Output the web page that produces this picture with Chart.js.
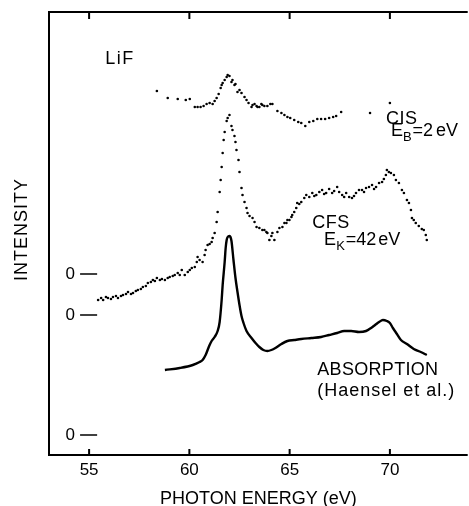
<!DOCTYPE html>
<html>
<head>
<meta charset="utf-8">
<script src="https://cdn.jsdelivr.net/npm/chart.js@4/dist/chart.umd.min.js"></script>
<style>
  html, body { margin: 0; padding: 0; background: #fff; }
  canvas { display: block; }
</style>
</head>
<body>
<canvas id="myChart" width="469" height="506"></canvas>
<script>
// photon energy ticks (eV)
const xTicks = [55, 60, 65, 70]

// the three offset zero levels, in intensity units
const zeroLevels = [45.25, 35, 5]

// CIS, E_B = 2 eV (dots)
const cisE = [58.38, 58.92, 59.42, 59.82, 60.02, 60.27, 60.41, 60.56, 60.71, 60.86, 61.01, 61.16, 61.26, 61.36, 61.46, 61.56, 61.61, 61.66, 61.76, 61.86, 61.91, 62.00, 62.10, 62.15, 62.25, 62.30, 62.40, 62.50, 62.60, 62.75, 62.85, 62.95, 63.10, 63.15, 63.25, 63.35, 63.40, 63.49, 63.59, 63.64, 63.74, 63.89, 64.04, 64.14, 64.39, 64.59, 64.74, 64.89, 65.03, 65.23, 65.43, 65.58, 65.78, 65.98, 66.18, 66.38, 66.57, 66.77, 66.97, 67.17, 67.32, 67.57, 69.01, 70.00]
const cisI = [91.0, 89.25, 89.0, 88.75, 89.0, 87.0, 87.0, 87.0, 87.25, 87.75, 88.0, 87.75, 88.5, 89.25, 90.25, 91.75, 92.5, 93.0, 93.75, 94.5, 95.0, 94.75, 93.25, 93.75, 92.5, 92.75, 90.75, 91.25, 90.5, 89.5, 88.75, 88.0, 87.0, 87.5, 87.75, 87.25, 87.0, 87.0, 87.75, 87.5, 87.25, 87.25, 87.75, 87.75, 86.0, 85.5, 85.0, 84.5, 84.25, 83.75, 83.25, 83.0, 82.25, 83.25, 83.5, 84.0, 84.0, 84.0, 84.25, 84.5, 84.75, 85.75, 85.5, 88.0]

// CFS, E_K = 42 eV (dots)
const cfsE = [55.45, 55.60, 55.70, 55.84, 55.94, 56.09, 56.19, 56.34, 56.44, 56.59, 56.69, 56.84, 56.94, 57.09, 57.19, 57.33, 57.43, 57.58, 57.68, 57.83, 57.93, 58.08, 58.18, 58.28, 58.38, 58.53, 58.63, 58.78, 58.92, 59.02, 59.17, 59.27, 59.42, 59.52, 59.62, 59.77, 59.92, 60.02, 60.12, 60.27, 60.37, 60.41, 60.51, 60.66, 60.76, 60.81, 60.91, 61.01, 61.11, 61.16, 61.26, 61.36, 61.41, 61.51, 61.56, 61.61, 61.66, 61.71, 61.76, 61.86, 61.91, 62.00, 62.10, 62.15, 62.25, 62.30, 62.35, 62.45, 62.50, 62.60, 62.65, 62.75, 62.85, 62.90, 63.00, 63.15, 63.25, 63.35, 63.49, 63.64, 63.74, 63.84, 63.89, 63.99, 64.09, 64.14, 64.24, 64.39, 64.49, 64.64, 64.74, 64.84, 64.89, 64.99, 65.09, 65.13, 65.23, 65.33, 65.38, 65.48, 65.58, 65.73, 65.83, 65.98, 66.13, 66.23, 66.33, 66.48, 66.62, 66.72, 66.82, 66.97, 67.12, 67.22, 67.37, 67.47, 67.62, 67.72, 67.82, 67.97, 68.11, 68.21, 68.31, 68.46, 68.61, 68.71, 68.81, 68.96, 69.11, 69.21, 69.31, 69.46, 69.61, 69.70, 69.80, 69.85, 69.95, 70.05, 70.20, 70.30, 70.45, 70.60, 70.70, 70.85, 70.95, 71.05, 71.10, 71.19, 71.29, 71.44, 71.59, 71.69, 71.79, 71.84]
const cfsI = [38.75, 39.25, 38.75, 39.5, 39.25, 39.0, 39.5, 39.75, 39.25, 39.75, 40.0, 40.25, 40.75, 40.25, 40.5, 41.0, 41.25, 41.5, 42.0, 42.25, 43.0, 43.25, 43.75, 43.5, 44.25, 43.75, 44.0, 43.75, 44.25, 44.5, 44.75, 45.0, 45.5, 45.0, 46.25, 45.0, 45.75, 46.25, 46.75, 47.0, 48.25, 49.5, 48.75, 48.25, 50.0, 51.25, 52.5, 52.75, 53.25, 54.25, 55.5, 58.25, 60.75, 65.75, 68.75, 72.0, 75.5, 78.75, 80.75, 83.5, 84.25, 85.0, 82.25, 81.25, 79.75, 78.25, 76.25, 73.75, 70.75, 66.75, 65.0, 63.25, 61.75, 60.5, 59.75, 59.25, 58.25, 57.0, 56.75, 56.25, 56.25, 55.75, 55.5, 53.75, 54.75, 55.5, 53.75, 55.75, 56.75, 57.0, 58.0, 58.0, 58.75, 58.75, 59.5, 60.0, 60.75, 61.75, 63.0, 62.75, 63.25, 64.25, 65.0, 64.5, 65.5, 64.75, 65.0, 65.75, 66.25, 65.25, 65.5, 66.5, 65.5, 66.0, 67.0, 65.75, 65.0, 64.5, 65.5, 64.5, 64.25, 64.75, 65.5, 66.25, 66.25, 65.75, 66.75, 67.0, 67.5, 66.5, 67.0, 68.0, 68.25, 69.0, 70.0, 71.25, 70.75, 70.5, 70.0, 68.75, 68.0, 66.25, 65.5, 63.75, 63.0, 61.25, 59.25, 58.75, 58.0, 57.25, 56.5, 56.25, 55.0, 53.75]

// absorption, Haensel et al. (solid line)
const absE = [58.78, 59.52, 60.17, 60.51, 60.66, 60.81, 60.91, 61.01, 61.11, 61.26, 61.41, 61.51, 61.61, 61.66, 61.76, 61.81, 61.86, 61.91, 62.00, 62.05, 62.10, 62.20, 62.30, 62.40, 62.50, 62.60, 62.70, 62.85, 63.10, 63.30, 63.49, 63.69, 63.89, 64.09, 64.29, 64.59, 64.89, 65.23, 65.58, 66.08, 66.57, 66.97, 67.37, 67.72, 68.07, 68.46, 68.81, 69.06, 69.26, 69.46, 69.65, 69.85, 70.00, 70.15, 70.35, 70.55, 70.85, 71.19, 71.54, 71.84]
const absI = [21.25, 21.75, 22.5, 23.25, 23.75, 25.0, 26.25, 27.5, 28.5, 29.5, 31.0, 33.25, 38.75, 42.5, 48.25, 51.75, 53.75, 54.5, 54.75, 54.5, 53.5, 48.75, 44.25, 40.75, 37.5, 34.75, 33.0, 31.0, 29.25, 28.0, 27.0, 26.25, 26.0, 26.25, 26.75, 27.75, 28.5, 28.75, 29.0, 29.25, 29.5, 30.0, 30.5, 31.0, 31.0, 30.75, 31.0, 31.75, 32.5, 33.25, 33.75, 33.5, 33.0, 31.75, 30.25, 28.75, 27.75, 26.5, 25.75, 25.0]

function points(xs, ys)
{
  return xs.map(function(x, i){ return {x: x, y: ys[i]} })
}

const FONT = "'Liberation Sans', Arial, sans-serif"

// frame, inward ticks, zero marks and the text labels
const decor = {
  id: 'decor',
  afterDraw: function(chart){
    const ctx = chart.ctx
    const a = chart.chartArea
    const xs = chart.scales.x
    const ys = chart.scales.y
    ctx.save()
    ctx.strokeStyle = '#000'
    ctx.lineWidth = 2
    ctx.beginPath()
    ctx.moveTo(a.right, a.top)
    ctx.lineTo(a.left, a.top)
    ctx.lineTo(a.left, a.bottom)
    ctx.lineTo(a.right, a.bottom)
    xTicks.forEach(function(v){
      const px = xs.getPixelForValue(v)
      ctx.moveTo(px, a.top)
      ctx.lineTo(px, a.top + 7)
      ctx.moveTo(px, a.bottom)
      ctx.lineTo(px, a.bottom - 6)
    })
    ctx.stroke()

    ctx.fillStyle = '#000'
    ctx.textBaseline = 'middle'
    ctx.lineWidth = 1.5
    zeroLevels.forEach(function(v){
      const py = ys.getPixelForValue(v)
      ctx.font = '17px ' + FONT
      ctx.textAlign = 'center'
      ctx.fillText('0', xs.getPixelForValue(54.06), py)
      ctx.beginPath()
      ctx.moveTo(xs.getPixelForValue(54.55), py)
      ctx.lineTo(xs.getPixelForValue(55.40), py)
      ctx.stroke()
    })

    ctx.textAlign = 'left'
    function label(parts, ex, iy, spacing)
    {
      let px = xs.getPixelForValue(ex)
      const py = ys.getPixelForValue(iy)
      ctx.letterSpacing = (spacing || 0) + 'px'
      parts.forEach(function(p){
        ctx.font = p[1] + 'px ' + FONT
        ctx.fillText(p[0], px, py + (p[2] || 0))
        px += ctx.measureText(p[0]).width + (p[3] || 0)
      })
    }
    label([['LiF', 18]], 55.80, 99.0, 1.5)
    label([['CIS', 18]], 69.80, 84.0, 0.5)
    label([['E', 18], ['B', 13, 6, 1], ['=2', 18, 0, 3], ['eV', 18]], 70.05, 81.0)
    label([['CFS', 18]], 66.13, 58.0, 0.5)
    label([['E', 18], ['K', 13, 6, 1], ['=42', 18, 0, 2], ['eV', 18]], 66.72, 53.75)
    label([['ABSORPTION', 18]], 66.38, 21.25, 0.3)
    label([['(Haensel et al.)', 18]], 66.38, 16.0, 1)

    // rotated y title
    ctx.letterSpacing = '1px'
    ctx.font = '18px ' + FONT
    ctx.textAlign = 'center'
    ctx.translate(22, (a.top + a.bottom) / 2 - 4)
    ctx.rotate(-Math.PI / 2)
    ctx.fillText('INTENSITY', 0, 0)
    ctx.restore()
  }
}

const dotStyle = {
  showLine: false,
  pointRadius: 1.3,
  pointBorderWidth: 0,
  pointBackgroundColor: '#000',
  pointHoverRadius: 0
}

var ctx = document.getElementById('myChart').getContext('2d')
var chart = new Chart(ctx, {
  type: 'scatter',
  data: {
    datasets: [
      Object.assign({ label: 'CIS', data: points(cisE, cisI) }, dotStyle),
      Object.assign({ label: 'CFS', data: points(cfsE, cfsI) }, dotStyle),
      {
        label: 'Absorption',
        data: points(absE, absI),
        showLine: true,
        borderColor: '#000',
        borderWidth: 2.4,
        pointRadius: 0,
        cubicInterpolationMode: 'monotone'
      }
    ]
  },
  options: {
    responsive: false,
    animation: false,
    layout: { padding: { left: 49, top: 12, right: 0, bottom: 0 } },
    plugins: { legend: { display: false }, tooltip: { enabled: false } },
    scales: {
      x: {
        type: 'linear',
        min: 53,
        max: 73.88,
        afterBuildTicks: function(scale){
          scale.ticks = xTicks.map(function(v){ return {value: v} })
        },
        grid: { display: false, drawTicks: false },
        border: { display: false },
        ticks: {
          color: '#000',
          padding: 7,
          font: { family: FONT, size: 17, lineHeight: 1 }
        },
        title: {
          display: true,
          text: 'PHOTON ENERGY (eV)',
          color: '#000',
          padding: { top: 4, bottom: -2 },
          font: { family: FONT, size: 18, lineHeight: 1 }
        }
      },
      y: {
        display: false,
        min: 0,
        max: 110.75
      }
    }
  },
  plugins: [decor]
})
</script>
</body>
</html>
